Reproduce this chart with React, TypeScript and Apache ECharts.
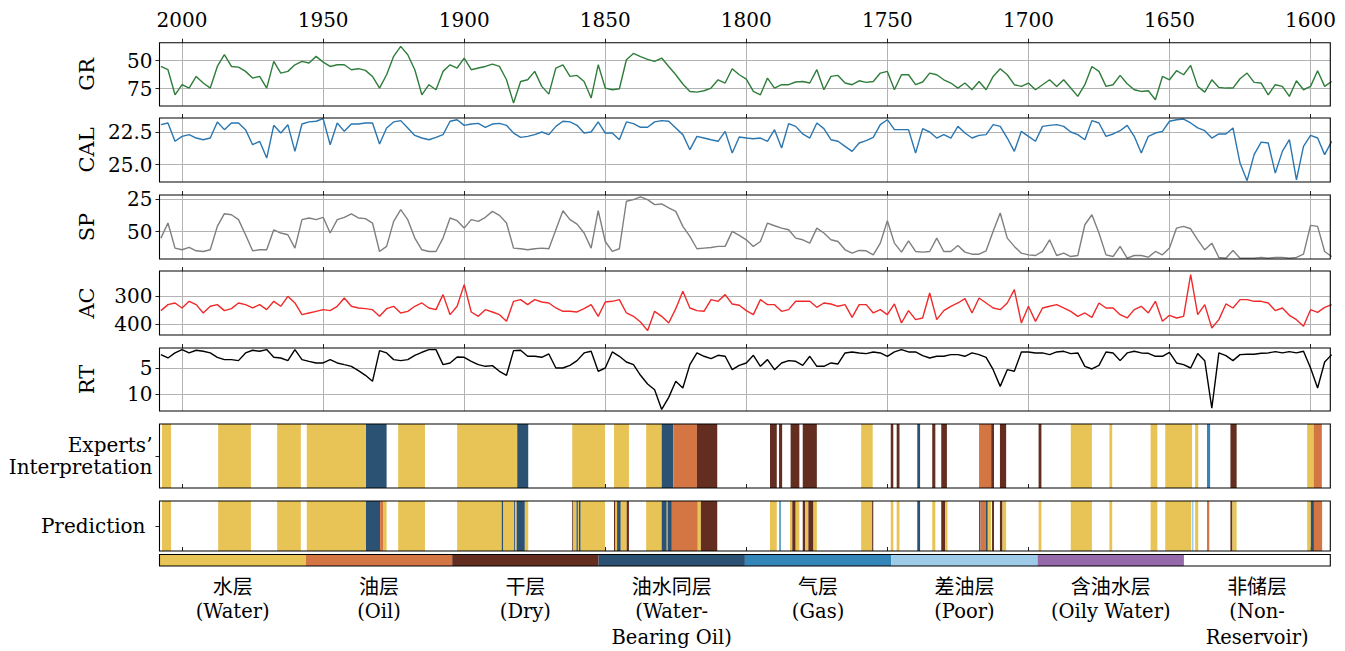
import React, { useEffect, useRef } from 'react';
import * as echarts from 'echarts';

// ---------------- data ----------------
const DEPTH_START = 2007.5;
const DEPTH_STEP = 2.5;

const GR = [
  55.1, 58, 80.4, 71.4, 74.4, 64, 69.9, 74.4, 55.1, 44.6, 55.1, 55.7, 59.5, 65.5, 64, 74.4, 50.6, 61, 59.5, 53.6, 50.6, 52, 46.1, 51.2, 55.1, 53.6, 53.6, 58,
  57.1, 58.6, 64, 74.4, 62.5, 46.1, 37.2, 44.6, 58, 80.4, 71.4, 75.9, 59.5, 53.6, 56.5, 47.6, 58, 56.5, 55.1, 53, 55.1, 67, 87.8, 68.5, 67, 59.5, 72.9, 79.8,
  56.5, 53.6, 64, 63.1, 68.5, 83.3, 53.6, 74.4, 75.9, 75, 49.1, 43.5, 46.4, 48.8, 50.6, 47.6, 55.1, 62.5, 70.8, 77.4, 78, 76.8, 74.4, 67, 69.9, 57.1, 62.5,
  66.4, 77.4, 80.4, 65.5, 74.4, 71.4, 71.4, 69, 68.5, 69.9, 58, 75.9, 64, 63.1, 69.9, 71.4, 67.9, 69.3, 68.5, 61, 59.5, 75.9, 62.5, 62.5, 71.4, 69, 61, 62.5,
  67, 69.9, 74.4, 69.9, 75.9, 68.5, 75.9, 64, 57.1, 62.5, 71.4, 72.9, 69.9, 75.9, 71.4, 67, 72.9, 67, 74.4, 81.8, 71.4, 55.1, 59.5, 72.9, 71.4, 63.1, 70.5, 75.9,
  77.4, 76.8, 84.8, 64, 67, 58.9, 62.5, 54.2, 72.9, 78, 67, 73.8, 74.4, 74.4, 66.1, 61, 69.3, 69.9, 80.4, 71.4, 72.9, 81.8, 67.9, 75.9, 72.9, 58.9, 72.9, 68.5,
];

const CAL = [
  21.94, 21.81, 23.21, 22.83, 22.7, 22.96, 23.09, 22.96, 21.73, 22.32, 21.81, 21.81, 22.32, 23.47, 23.21, 24.49, 21.99, 22.58, 21.94, 23.98, 21.89, 21.73, 21.68, 21.48, 23.47, 21.81, 22.45, 21.89,
  21.89, 21.81, 21.81, 23.42, 22.19, 21.73, 21.63, 22.19, 22.76, 22.96, 23.09, 22.91, 22.7, 21.68, 21.56, 21.99, 21.89, 21.84, 22.14, 21.89, 21.84, 21.99, 22.58, 22.91, 22.83, 22.7, 22.5, 22.7,
  22.07, 21.68, 21.73, 21.99, 22.58, 22.5, 21.73, 22.58, 22.58, 23.09, 21.73, 21.86, 22.14, 22.14, 21.73, 21.63, 21.68, 22.19, 22.7, 23.85, 22.83, 22.96, 23.09, 23.21, 22.45, 24.1, 22.88,
  22.96, 23.01, 22.96, 23.21, 22.32, 23.72, 21.86, 22.07, 22.65, 22.96, 21.81, 22.24, 23.09, 23.21, 23.6, 23.98, 23.34, 23.16, 22.91, 21.94, 21.56, 22.32, 22.32, 22.32, 24.11, 22.24, 22.5, 22.96,
  22.7, 22.96, 22.07, 22.58, 22.96, 22.76, 22.7, 21.94, 22.07, 22.96, 23.98, 22.45, 22.83, 23.21, 22.07, 21.99, 21.94, 22.07, 22.5, 22.7, 23.09, 21.63, 21.81, 22.83, 22.65, 22.4, 21.99, 22.83,
  24.11, 22.83, 22.58, 22.45, 21.68, 21.56, 21.51, 21.81, 22.19, 22.4, 22.96, 22.65, 22.65, 22.19, 24.87, 26.22, 24.23, 23.27, 23.34, 25.64, 23.98, 23.09, 26.15, 23.6, 22.76, 22.96, 24.23, 23.21,
];

const SP = [
  54.9, 43.3, 62.6, 63.9, 62.1, 64.7, 65.2, 63.9, 45.9, 36.1, 36.9, 40.7, 52.3, 64.7, 63.9, 63.9, 48.5, 51, 52.3, 62.6, 40.7, 39.4, 40.7, 38.9, 51, 40.7, 38.9, 36.3,
  39.4, 39.9, 43.3, 65.2, 61.3, 42, 33, 40.7, 54.9, 63.9, 65.2, 65.2, 54.9, 39.4, 41.5, 47.2, 40.7, 42, 38.9, 34.3, 37.4, 43.3, 62.6, 63.1, 63.9, 63.1, 62.6, 63.1,
  48.5, 33.8, 40.7, 44.1, 51, 62.6, 33.8, 57.5, 65.2, 63.1, 26.5, 25.3, 23.2, 25.3, 29.1, 28.6, 31.7, 34.3, 45.9, 53.6, 63.1, 62.6, 62.1, 61.3, 61.3, 49.7, 52.8,
  56.2, 61.3, 57.5, 43.3, 45.4, 47.2, 48.5, 54.9, 56.2, 58.8, 47.2, 51, 56.2, 57.5, 63.9, 66.5, 64.4, 64.7, 67.8, 58.8, 41.5, 58.8, 65.7, 57, 65.2, 65.7, 65.2, 54.9,
  65.2, 65.2, 60.6, 65.7, 67.3, 67.3, 64.7, 49.7, 35.6, 54.9, 61.3, 66.5, 67.8, 68.3, 65.2, 56.2, 68.3, 66.5, 69.1, 68.3, 44.6, 36.9, 51, 67.8, 69.1, 61.3, 70.4, 68.3,
  68.3, 69.6, 65.2, 67.8, 62.6, 47.2, 45.9, 47.7, 56.2, 63.9, 58.8, 69.8, 70.4, 64.4, 70.4, 70.4, 70.4, 69.8, 70.4, 69.8, 69.8, 70.4, 69.8, 67.3, 45.1, 45.9, 65.2, 69.1,
];

const AC = [
  351.8, 330.1, 324.1, 342.2, 318.1, 330.1, 360.2, 336.1, 330.1, 351.8, 344.6, 324.1, 330.1, 342.2, 330.1, 348.2, 318.1, 336.1, 300, 324.1, 366.3, 360.2, 354.2, 348.2, 351.8, 336.1, 306, 336.1,
  342.2, 344.6, 348.2, 372.3, 344.6, 336.1, 360.2, 354.2, 336.1, 324.1, 342.2, 348.2, 294, 366.3, 336.1, 257.8, 356.6, 372.3, 348.2, 356.6, 366.3, 390.4, 318.1, 312, 330.1, 312, 320.5, 324.1,
  342.2, 354.2, 354.2, 356.6, 344.6, 330.1, 372.3, 320.5, 318.1, 312, 360.2, 372.3, 392.8, 424.1, 354.2, 372.3, 396.4, 344.6, 281.9, 342.2, 351.8, 354.2, 312, 318.1, 294, 327.7, 332.5,
  351.8, 366.3, 312, 330.1, 330.1, 354.2, 348.2, 318.1, 318.1, 318.1, 339.8, 324.1, 327.7, 336.1, 330.1, 375.9, 330.1, 330.1, 360.2, 348.2, 366.3, 327.7, 396.4, 351.8, 384.3, 378.3, 288, 384.3,
  351.8, 336.1, 324.1, 308.4, 360.2, 306, 324.1, 342.2, 348.2, 324.1, 275.9, 396.4, 336.1, 390.4, 342.2, 336.1, 330.1, 342.2, 354.2, 372.3, 360.2, 375.9, 324.1, 342.2, 342.2, 366.3, 378.3, 348.2,
  336.1, 360.2, 318.1, 390.4, 368.7, 378.3, 372.3, 221.7, 366.3, 330.1, 414.5, 384.3, 327.7, 342.2, 312, 312, 318.1, 318.1, 324.1, 351.8, 342.2, 368.7, 384.3, 408.4, 348.2, 357.8, 339.8, 330.1,
];

const RT = [
  2.34, 2.99, 2.01, 1.36, 2.01, 1.49, 1.69, 2.01, 2.86, 3.31, 3.31, 3.51, 2.01, 1.49, 1.69, 1.36, 2.86, 2.99, 3.51, 1.36, 3.31, 3.64, 3.96, 3.96, 3.31, 3.96, 4.29, 4.61,
  5.45, 6.36, 7.53, 1.56, 2.01, 3.31, 3.51, 3.31, 2.47, 1.88, 1.36, 1.36, 4.29, 3.96, 2.79, 2.86, 3.64, 4.29, 4.61, 4.48, 5.58, 6.36, 1.56, 1.49, 2.66, 2.66, 2.86, 2.21,
  4.94, 4.94, 4.42, 3.51, 2.01, 1.69, 5.58, 4.94, 1.82, 2.66, 3.77, 4.29, 6.36, 8.05, 9.16, 13.0, 10.65, 7.53, 8.83, 4.29, 2.01, 2.66, 3.12, 2.47, 2.66, 5.26, 4.42,
  3.96, 2.47, 4.61, 3.31, 5.26, 3.96, 3.51, 3.64, 4.42, 2.66, 4.61, 4.61, 3.96, 4.16, 2.01, 1.82, 2.01, 2.14, 1.82, 2.01, 2.66, 1.82, 1.36, 1.82, 1.82, 2.53, 2.99, 2.66,
  2.66, 2.34, 2.34, 2.66, 2.01, 2.34, 2.86, 5.26, 8.51, 5.26, 5.58, 1.82, 1.82, 2.01, 2.01, 2.34, 1.82, 1.69, 2.14, 2.01, 4.61, 5.13, 4.42, 1.82, 2.01, 3.51, 2.01, 1.69,
  2.01, 2.08, 2.66, 2.66, 1.88, 3.96, 4.29, 4.94, 2.14, 3.51, 12.73, 2.01, 2.53, 3.51, 2.34, 2.27, 2.27, 2.08, 2.01, 1.75, 2.01, 1.75, 2.01, 1.69, 4.94, 8.83, 3.77, 2.34,
];

const X_TICKS = [2000, 1950, 1900, 1850, 1800, 1750, 1700, 1650, 1600];
const GR_TICKS = [50, 75];
const CAL_TICKS = [22.5, 25.0];
const SP_TICKS = [25, 50];
const AC_TICKS = [300, 400];
const RT_TICKS = [5, 10];

const CLASS_CN = ['水层', '油层', '干层', '油水同层', '气层', '差油层', '含油水层', '非储层'];
const CLASS_EN = [['(Water)'], ['(Oil)'], ['(Dry)'], ['(Water-', 'Bearing Oil)'], ['(Gas)'], ['(Poor)'], ['(Oily Water)'], ['(Non-', 'Reservoir)']];
const CLASS_COLORS = ['#E8C355', '#D47544', '#632D1F', '#2C5273', '#3485B8', '#9ECBE8', '#9669AA', '#FFFFFF'];

// [top depth, bottom depth, class index]
const EXPERTS = [
  [2007.1, 2003.9, 0], [1987.2, 1975.6, 0], [1966.3, 1957.9, 0], [1955.8, 1934.8, 0], [1934.8, 1927.5, 3],
  [1923.4, 1913.9, 0], [1902.5, 1881.2, 0], [1881.2, 1877.3, 3], [1861.7, 1850.1, 0], [1846.9, 1841.6, 0],
  [1835.5, 1830.0, 0], [1830.0, 1825.9, 3], [1825.9, 1817.5, 1], [1817.5, 1810.3, 2], [1791.6, 1789.2, 2],
  [1788.4, 1787.3, 2], [1784.3, 1781.2, 2], [1780.0, 1775.0, 2], [1759.3, 1755.2, 0], [1748.8, 1747.9, 2],
  [1746.7, 1745.7, 2], [1739.4, 1738.4, 3], [1734.1, 1733.0, 2], [1730.9, 1728.9, 2], [1717.5, 1713.2, 1],
  [1713.2, 1712.2, 2], [1710.1, 1707.9, 2], [1696.4, 1695.4, 2], [1685.0, 1677.5, 0], [1671.3, 1670.3, 0],
  [1656.7, 1654.3, 0], [1651.5, 1642.0, 0], [1640.9, 1639.8, 0], [1636.7, 1635.6, 4], [1628.4, 1626.2, 2],
  [1601.2, 1598.9, 0], [1598.9, 1596.0, 1],
];

const PREDICTION = [
  [2007.1, 2003.9, 0], [1987.2, 1975.6, 0], [1966.3, 1957.9, 0], [1955.8, 1934.8, 0], [1934.8, 1929.8, 3],
  [1929.8, 1928.6, 1], [1928.6, 1927.5, 0], [1923.4, 1913.9, 0], [1902.5, 1886.7, 0], [1886.7, 1886.1, 3],
  [1886.1, 1882.3, 0], [1882.3, 1881.9, 3], [1881.9, 1881.4, 0], [1881.4, 1878.5, 3], [1878.5, 1877.3, 0],
  [1861.7, 1861.3, 2], [1861.3, 1860.2, 0], [1860.2, 1859.7, 3], [1859.7, 1859.3, 0], [1859.3, 1858.7, 3],
  [1858.7, 1850.1, 0], [1846.9, 1846.4, 2], [1846.4, 1845.8, 0], [1845.8, 1844.5, 3], [1844.5, 1842.4, 0],
  [1842.4, 1841.6, 2], [1835.5, 1830.0, 0], [1830.0, 1828.2, 3], [1828.2, 1827.9, 0], [1827.9, 1826.4, 3],
  [1826.4, 1817.2, 1], [1817.2, 1816.1, 0], [1816.1, 1810.3, 2], [1791.6, 1789.2, 0], [1788.3, 1787.8, 4],
  [1784.5, 1783.7, 0], [1783.7, 1782.5, 2], [1782.5, 1781.2, 0], [1780.0, 1779.2, 2], [1779.2, 1778.0, 0],
  [1778.0, 1776.2, 2], [1776.2, 1775.0, 0], [1759.3, 1755.4, 0], [1755.4, 1755.0, 2], [1748.8, 1747.9, 0],
  [1746.7, 1745.7, 0], [1739.4, 1738.4, 3], [1734.1, 1733.0, 0], [1730.9, 1729.5, 2], [1729.5, 1728.7, 0],
  [1717.5, 1717.0, 3], [1717.0, 1715.1, 1], [1715.1, 1714.4, 3], [1714.4, 1713.2, 0], [1712.9, 1712.2, 2],
  [1710.1, 1709.2, 2], [1709.2, 1707.9, 0], [1696.4, 1695.4, 0], [1685.0, 1677.5, 0], [1671.3, 1670.3, 0],
  [1656.7, 1654.3, 0], [1651.5, 1642.3, 0], [1642.0, 1641.5, 5], [1640.9, 1639.8, 0], [1636.7, 1635.9, 1],
  [1628.4, 1627.7, 2], [1627.7, 1626.2, 0], [1601.2, 1599.9, 0], [1599.9, 1598.8, 3], [1598.8, 1595.9, 1],
];

// ---------------- layout / style ----------------
const FONT = 'DejaVu Serif';
const CJK = 'Noto Sans CJK SC';
const LEFT = 159.5;
const WIDTH = 1170.8;
const X_MIN = 1593;
const X_MAX = 2008;
const PANELS = [
  { top: 42.7, height: 63.3 },
  { top: 118, height: 64 },
  { top: 195, height: 64 },
  { top: 271, height: 64 },
  { top: 348, height: 63 },
  { top: 424, height: 64 },
  { top: 501, height: 50 },
  { top: 554.5, height: 11.5 },
];
const GRID_COLOR = '#b3b3b3';
const FS = 20;

const LOGS = [
  { name: 'GR', data: GR, color: '#2f7d3b', min: 33.9, max: 90.4, ticks: GR_TICKS, dec: 0 },
  { name: 'CAL', data: CAL, color: '#2a76b0', min: 21.43, max: 26.32, ticks: CAL_TICKS, dec: 1 },
  { name: 'SP', data: SP, color: '#7f7f7f', min: 21.7, max: 71, ticks: SP_TICKS, dec: 0 },
  { name: 'AC', data: AC, color: '#f02a2a', min: 208.7, max: 439.7, ticks: AC_TICKS, dec: 0 },
  { name: 'RT', data: RT, color: '#000000', min: 1.05, max: 13.3, ticks: RT_TICKS, dec: 0 },
];

function buildOption() {
  const grid = PANELS.map((p) => ({
    left: LEFT, top: p.top, width: WIDTH, height: p.height,
    containLabel: false, outerBoundsMode: 'none',
  }));

  const xAxis: any[] = [];
  const yAxis: any[] = [];
  const series: any[] = [];

  for (let i = 0; i < 7; i++) {
    xAxis.push({
      type: 'value', gridIndex: i, position: 'top', inverse: true, min: X_MIN, max: X_MAX,
      axisLine: { show: false },
      axisTick: { show: true, inside: false, length: 4, customValues: X_TICKS, lineStyle: { color: '#222', width: 1 } },
      axisLabel: {
        show: i === 0, customValues: X_TICKS, margin: 13, fontSize: FS, fontFamily: FONT, color: '#000',
        formatter: (v: number) => String(v),
      },
      splitLine: { show: i < 5, lineStyle: { color: GRID_COLOR, width: 1 } },
    });
  }

  LOGS.forEach((lg, i) => {
    yAxis.push({
      type: 'value', gridIndex: i, inverse: true, min: lg.min, max: lg.max,
      axisLine: { show: false },
      axisTick: { show: true, inside: false, length: 4, customValues: lg.ticks, lineStyle: { color: '#222' } },
      axisLabel: {
        customValues: lg.ticks, margin: 7, fontSize: FS, fontFamily: FONT, color: '#000',
        formatter: (v: number) => v.toFixed(lg.dec),
      },
      splitLine: { show: true, lineStyle: { color: GRID_COLOR, width: 1 } },
      name: lg.name, nameLocation: 'middle', nameGap: 62, nameRotate: 90,
      nameTextStyle: { fontSize: 21, fontFamily: FONT, color: '#000' },
    });
    series.push({
      type: 'line', xAxisIndex: i, yAxisIndex: i, silent: true, showSymbol: false, symbol: 'none',
      clip: true, z: 5,
      lineStyle: { color: lg.color, width: 1.4 },
      itemStyle: { color: lg.color },
      data: lg.data.map((v, k) => [DEPTH_START - k * DEPTH_STEP, v]),
    });
  });

  const layerLabels = ['Experts’\nInterpretation', 'Prediction'];
  const layerData = [EXPERTS, PREDICTION];
  [5, 6].forEach((gi, j) => {
    yAxis.push({
      type: 'value', gridIndex: gi, min: 0, max: 1,
      axisLine: { show: false },
      axisTick: { show: true, inside: false, length: 4, customValues: [0.5], lineStyle: { color: '#222' } },
      axisLabel: {
        customValues: [0.5], margin: j === 0 ? 7 : 14, fontSize: FS, fontFamily: FONT, color: '#000',
        lineHeight: 22, formatter: () => layerLabels[j],
      },
      splitLine: { show: false },
    });
    series.push({
      type: 'custom', xAxisIndex: gi, yAxisIndex: gi, silent: true, clip: true,
      encode: { x: [0, 1], y: 2 },
      data: layerData[j],
      renderItem: (params: any, api: any) => {
        const a = api.coord([api.value(0), 1]);
        const b = api.coord([api.value(1), 0]);
        const cls = api.value(2);
        return {
          type: 'rect',
          shape: {
            x: Math.min(a[0], b[0]), y: Math.min(a[1], b[1]),
            width: Math.max(Math.abs(b[0] - a[0]), 0.8), height: Math.abs(b[1] - a[1]),
          },
          style: { fill: CLASS_COLORS[cls] },
        };
      },
    });
  });

  // colour bar
  xAxis.push({
    type: 'category', gridIndex: 7, position: 'bottom', data: CLASS_CN, boundaryGap: true,
    axisLine: { show: false }, axisTick: { show: false },
    axisLabel: {
      interval: 0, margin: 6,
      formatter: (val: string, idx: number) =>
        ['{cn|' + val + '}'].concat(CLASS_EN[idx].map((s) => '{en|' + s + '}')).join('\n'),
      rich: {
        cn: { fontFamily: CJK, fontSize: 20, lineHeight: 26, color: '#000' },
        en: { fontFamily: FONT, fontSize: 19.5, lineHeight: 26, color: '#000' },
      },
    },
  });
  yAxis.push({ type: 'value', gridIndex: 7, min: 0, max: 1, show: false });
  series.push({
    type: 'bar', xAxisIndex: 7, yAxisIndex: 7, silent: true, barWidth: '100%', barCategoryGap: '0%',
    data: CLASS_COLORS.map((c) => ({ value: 1, itemStyle: { color: c } })),
  });

  const graphic = PANELS.map((p) => ({
    type: 'rect', z: 100, silent: true,
    shape: { x: LEFT, y: p.top, width: WIDTH, height: p.height },
    style: { fill: 'none', stroke: '#000', lineWidth: 1.1 },
  }));

  return {
    animation: false,
    backgroundColor: '#fff',
    textStyle: { fontFamily: FONT },
    grid, xAxis, yAxis, series, graphic,
  };
}

export default function App() {
  const ref = useRef<HTMLDivElement>(null);
  useEffect(() => {
    if (!ref.current) return;
    const chart = echarts.init(ref.current, undefined, { renderer: 'svg' });
    chart.setOption(buildOption() as any);
    return () => chart.dispose();
  }, []);
  return (
    <div
      ref={ref}
      style={{ position: 'absolute', left: 0, top: 0, width: 1345, height: 651, background: '#fff' }}
    />
  );
}
